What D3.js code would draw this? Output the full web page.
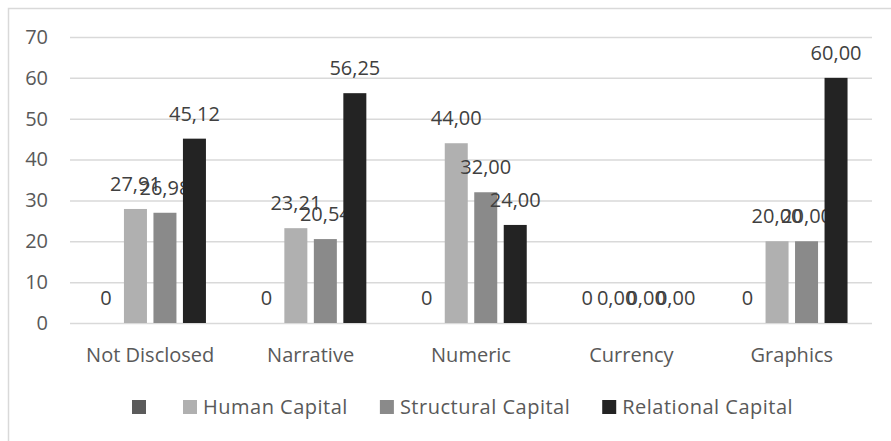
<!DOCTYPE html>
<html>
<head>
<meta charset="utf-8">
<script src="https://cdn.jsdelivr.net/npm/d3@7"></script>
<style>
  html, body { margin: 0; padding: 0; background: #fff; }
</style>
</head>
<body>
<svg id="chart" width="891" height="441" viewBox="0 0 891 441"></svg>
<script>
const categories = ["Not Disclosed", "Narrative", "Numeric", "Currency", "Graphics"];
const seriesNames = ["", "Human Capital", "Structural Capital", "Relational Capital"];
const blankValues = [0, 0, 0, 0, 0];
const humanValues = [27.91, 23.21, 44.00, 0, 20.00];
const structuralValues = [26.98, 20.54, 32.00, 0, 20.00];
const relationalValues = [45.12, 56.25, 24.00, 0, 60.00];
const yTicks = [0, 10, 20, 30, 40, 50, 60, 70];

const seriesValues = [blankValues, humanValues, structuralValues, relationalValues];
const colors = ["#5b5b5b", "#b0b0b0", "#8a8a8a", "#232323"];
const font = "'Open Sans', sans-serif";

const svg = d3.select("#chart");
const margin = { top: 37, right: 19, bottom: 118, left: 70 };
const width = 891, height = 441;
const innerW = width - margin.left - margin.right;
const innerH = height - margin.top - margin.bottom;

// outer frame (cut off at right and bottom like the source)
svg.append("rect")
  .attr("x", 8.5).attr("y", 8.5)
  .attr("width", 900).attr("height", 460)
  .attr("fill", "none")
  .attr("stroke", "#d9d9d9")
  .attr("stroke-width", 1.5);

const chart = svg.append("g").attr("transform", `translate(${margin.left},${margin.top})`);

const x0 = d3.scaleBand().domain(categories).range([0, innerW]).paddingInner(0.305).paddingOuter(0.1525);
const x1 = d3.scaleBand().domain(d3.range(seriesNames.length)).range([0, x0.bandwidth()]).paddingInner(0.22).paddingOuter(0);
const y = d3.scaleLinear().domain([0, 70]).range([innerH, 0]);

// gridlines + y labels
chart.append("g")
  .call(d3.axisLeft(y).tickValues(yTicks).tickSize(-innerW).tickFormat(d3.format("d")))
  .call(g => g.select(".domain").remove())
  .call(g => g.selectAll(".tick line").attr("stroke", "#d9d9d9").attr("stroke-width", 1.5))
  .call(g => g.selectAll(".tick text")
    .attr("x", -22)
    .attr("fill", "#595959")
    .attr("font-family", font)
    .attr("font-size", 20));

// x labels
chart.append("g")
  .attr("transform", `translate(0,${innerH})`)
  .call(d3.axisBottom(x0).tickSize(0))
  .call(g => g.select(".domain").remove())
  .call(g => g.selectAll(".tick text")
    .attr("y", 32)
    .attr("dy", "0.35em")
    .attr("fill", "#595959")
    .attr("font-family", font)
    .attr("font-size", 20));

const rows = [];
categories.forEach((c, ci) => {
  seriesValues.forEach((vals, si) => rows.push({ cat: c, s: si, v: vals[ci] }));
});

const groups = chart.selectAll(".bar")
  .data(rows)
  .join("g")
  .attr("class", "bar")
  .attr("transform", d => `translate(${x0(d.cat) + x1(d.s)},0)`);

groups.append("rect")
  .attr("y", d => y(d.v))
  .attr("width", x1.bandwidth())
  .attr("height", d => innerH - y(d.v))
  .attr("fill", d => colors[d.s]);

const fmt2 = v => v.toFixed(2).replace(".", ",");
groups.append("text")
  .attr("x", x1.bandwidth() / 2)
  .attr("y", d => y(d.v) - 25)
  .attr("dy", "0.35em")
  .attr("text-anchor", "middle")
  .attr("fill", "#404040")
  .attr("font-family", font)
  .attr("font-size", 20)
  .text(d => d.s === 0 ? "0" : fmt2(d.v));

// legend
const legend = svg.append("g").attr("transform", "translate(0,407)");
const items = legend.selectAll(".item")
  .data(seriesNames)
  .join("g")
  .attr("class", "item");
items.append("rect")
  .attr("y", -7).attr("width", 14).attr("height", 14)
  .attr("fill", (d, i) => colors[i]);
items.append("text")
  .attr("x", 20)
  .attr("dy", "0.35em")
  .attr("fill", "#595959")
  .attr("font-family", font)
  .attr("font-size", 20)
  .attr("letter-spacing", 0.5)
  .text(d => d);
let cx = 132;
items.each(function(d, i) {
  d3.select(this).attr("transform", `translate(${cx},0)`);
  const w = d ? this.querySelector("text").getComputedTextLength() + 6 : 0;
  cx += 14 + w + (d ? 32 : 37);
});
</script>
</body>
</html>
